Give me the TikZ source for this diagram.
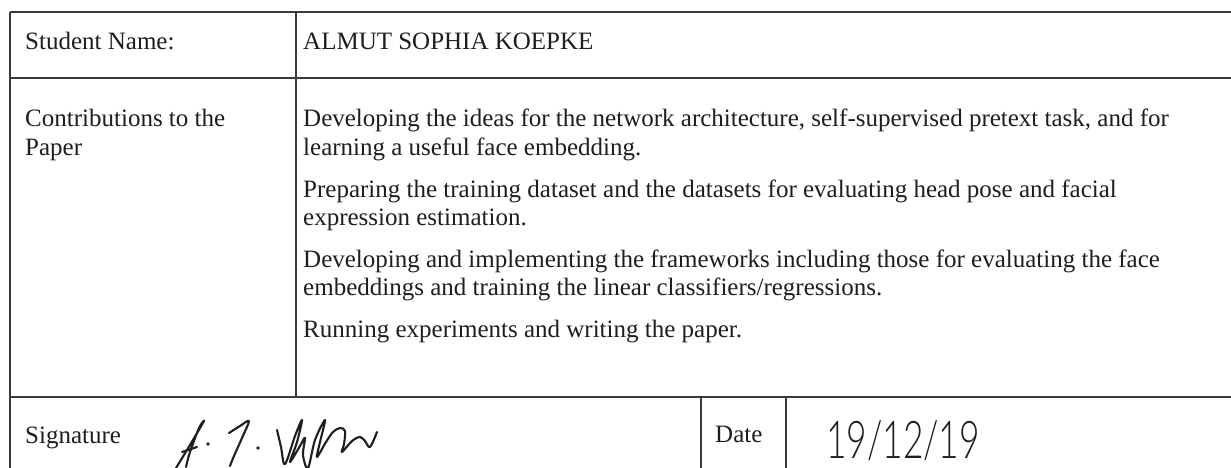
\documentclass[tikz,border=0pt]{standalone}
\usepackage{fontspec}
\setmainfont{Liberation Serif}
% thin pen-like face for the handwritten date, with safe fallbacks
\IfFontExistsTF{Lato Light}
  {\newfontfamily\handfont{Lato Light}}
  {\IfFontExistsTF{Lato-Light.ttf}
    {\newfontfamily\handfont{Lato-Light.ttf}}
    {\IfFontExistsTF{DejaVuSans-ExtraLight.ttf}
      {\newfontfamily\handfont{DejaVuSans-ExtraLight.ttf}}
      {\newfontfamily\handfont{Liberation Sans}}}}
\definecolor{rulegray}{HTML}{3A3A3A}
\definecolor{ink}{HTML}{1E1E1E}
\begin{document}
\begin{tikzpicture}[x=1pt,y=-1pt,
  rulestyle/.style={draw=rulegray, line width=1.4pt},
  cell/.style={inner sep=0pt, anchor=base west, text=ink,
    font=\fontsize{25}{28.75}\selectfont},
  datehand/.style={inner sep=0pt, anchor=base west, text=ink, xscale=0.68,
    font=\handfont\fontsize{52}{60}\selectfont},
  pen/.style={draw=ink, line width=2.1pt, line cap=round, line join=round}]
\useasboundingbox (0,0) rectangle (1231,468);
\fill[white] (0,0) rectangle (1231,468);

% corner and edge points of the form grid
\coordinate (topL) at (10,12);
\coordinate (topR) at (1231,12);
\coordinate (midL) at (10,78);
\coordinate (midR) at (1231,78);
\coordinate (lowL) at (10,397);
\coordinate (lowR) at (1231,397);
\coordinate (botL) at (10,468);
\coordinate (divT) at (296,12);
\coordinate (divB) at (296,397);
\coordinate (dateAT) at (701,397);
\coordinate (dateAB) at (701,468);
\coordinate (dateBT) at (786,397);
\coordinate (dateBB) at (786,468);

% grid lines
\draw[rulestyle] (topL) -- (topR);
\draw[rulestyle] (midL) -- (midR);
\draw[rulestyle] (lowL) -- (lowR);
\draw[rulestyle] (topL) -- (botL);
\draw[rulestyle] (divT) -- (divB);
\draw[rulestyle] (dateAT) -- (dateAB);
\draw[rulestyle] (dateBT) -- (dateBB);

% first row
\node[cell] (lblname) at (25,50) {Student Name:};
\node[cell] (valname) at (303,50) {ALMUT SOPHIA KOEPKE};

% second row
\node[cell] (lblcontrib) at (25,127) {Contributions to the};
\node[cell] (lblpaper) at (25,155.75) {Paper};
\node[cell] (ca) at (303,127) {Developing the ideas for the network architecture, self-supervised pretext task, and for};
\node[cell] (cb) at (303,155.75) {learning a useful face embedding.};
\node[cell] (cc) at (303,197) {Preparing the training dataset and the datasets for evaluating head pose and facial};
\node[cell] (cd) at (303,225.75) {expression estimation.};
\node[cell] (ce) at (303,267) {Developing and implementing the frameworks including those for evaluating the face};
\node[cell] (cf) at (303,295.75) {embeddings and training the linear classifiers/regressions.};
\node[cell] (cg) at (303,337) {Running experiments and writing the paper.};

% third row
\node[cell] (lblsig) at (25,443) {Signature};
\node[cell] (lbldate) at (715,442) {Date};
\node[datehand] (dateval) at (826,458) {19/12/19};

% handwritten signature strokes
\draw[pen] plot[smooth, tension=0.5] coordinates {(176,468) (190,445) (204,421) (199,428) (190,452) (186,467)};
\draw[pen] (182,452) -- (197,447);
\fill[ink] (208,444) circle (1.9);
\draw[pen] plot[smooth, tension=0.5] coordinates {(229,433) (240,426) (249,421) (242,438) (234,456) (230,466)};
\fill[ink] (258,448) circle (1.9);
\draw[pen] plot[smooth, tension=0.55] coordinates {(277,430) (281,447) (285,464) (295,436) (302,420) (297,442) (290,462) (300,446) (305,438) (303,455) (308,468) (315,440) (325,420) (320,442) (317,457) (326,442) (333,432) (340,428) (345,431) (344,444) (342,452) (352,441) (360,437) (365,441) (370,447) (377,432)};
\end{tikzpicture}
\end{document}
